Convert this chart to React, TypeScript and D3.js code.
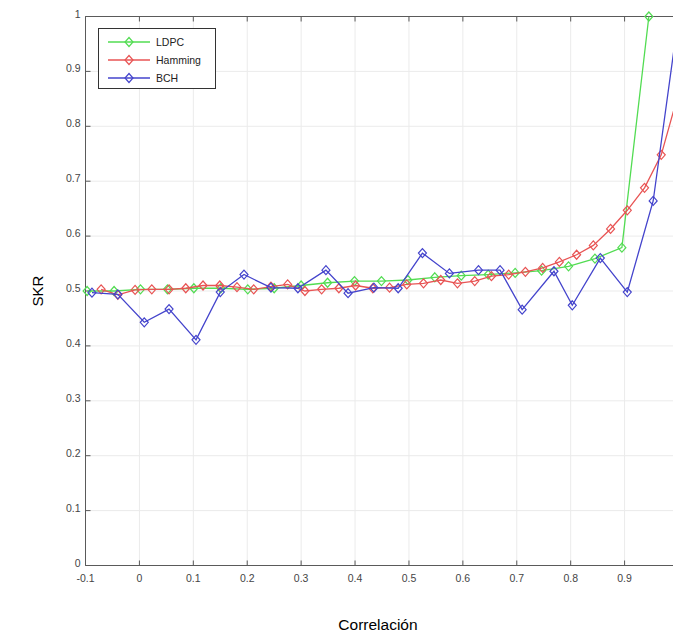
import React, { useRef, useEffect } from 'react';
import * as d3 from 'd3';

// LDPC
const ldpcX = [-0.097, -0.047, 0.002, 0.052, 0.101, 0.151, 0.201, 0.25, 0.3, 0.349, 0.399, 0.449, 0.498, 0.548, 0.597, 0.647, 0.697, 0.746, 0.796, 0.845, 0.895, 0.945];
const ldpcY = [0.5, 0.5, 0.503, 0.503, 0.505, 0.505, 0.503, 0.505, 0.51, 0.515, 0.518, 0.518, 0.52, 0.525, 0.528, 0.53, 0.533, 0.537, 0.545, 0.559, 0.579, 1.0];

// Hamming
const hammingX = [-0.071, -0.04, -0.008, 0.023, 0.055, 0.086, 0.118, 0.149, 0.181, 0.212, 0.244, 0.275, 0.307, 0.338, 0.37, 0.401, 0.433, 0.464, 0.496, 0.527, 0.559, 0.59, 0.622, 0.653, 0.685, 0.716, 0.748, 0.779, 0.811, 0.842, 0.874, 0.905, 0.937, 0.968, 1.0];
const hammingY = [0.503, 0.493, 0.502, 0.503, 0.503, 0.505, 0.51, 0.51, 0.507, 0.503, 0.508, 0.512, 0.5, 0.503, 0.505, 0.51, 0.505, 0.506, 0.512, 0.514, 0.52, 0.514, 0.518, 0.527, 0.53, 0.535, 0.542, 0.553, 0.566, 0.583, 0.613, 0.647, 0.688, 0.748, 0.86];

// BCH
const bchX = [-0.088, -0.04, 0.009, 0.055, 0.105, 0.15, 0.194, 0.244, 0.294, 0.346, 0.387, 0.435, 0.48, 0.525, 0.575, 0.629, 0.669, 0.71, 0.769, 0.803, 0.855, 0.905, 0.953, 1.0];
const bchY = [0.497, 0.494, 0.443, 0.467, 0.411, 0.498, 0.53, 0.506, 0.505, 0.538, 0.496, 0.506, 0.505, 0.569, 0.532, 0.538, 0.538, 0.466, 0.536, 0.474, 0.56, 0.498, 0.664, 1.0];

const xTicks = [-0.1, 0, 0.1, 0.2, 0.3, 0.4, 0.5, 0.6, 0.7, 0.8, 0.9, 1];
// the "1" label falls past the right edge of the picture
const xTickLabels = ['-0.1', '0', '0.1', '0.2', '0.3', '0.4', '0.5', '0.6', '0.7', '0.8', '0.9', ''];
const yTicks = [0, 0.1, 0.2, 0.3, 0.4, 0.5, 0.6, 0.7, 0.8, 0.9, 1];
const yTickLabels = ['0', '0.1', '0.2', '0.3', '0.4', '0.5', '0.6', '0.7', '0.8', '0.9', '1'];

const series = [
    { name: 'LDPC', xs: ldpcX, ys: ldpcY, color: '#52dc52' },
    { name: 'Hamming', xs: hammingX, ys: hammingY, color: '#e85454' },
    { name: 'BCH', xs: bchX, ys: bchY, color: '#4444cc' },
];

const diamond = 'M0,-4.5L4,0L0,4.5L-4,0Z';
const font = 'Arial, Liberation Sans, sans-serif';

const App = () => {
    const svgRef = useRef(null);
    const width = 673;
    const height = 636;

    useEffect(() => {
        if (!svgRef.current) {
            return;
        }
        const svg = d3.select(svgRef.current);
        svg.selectAll('*').remove();

        const x = d3.scaleLinear().domain([-0.1, 1]).range([85.5, 678.5]);
        const y = d3.scaleLinear().domain([0, 1]).range([565.5, 16.5]);

        // grid
        const grid = svg.append('g');
        grid.selectAll('.vg')
            .data(xTicks)
            .join('line')
            .attr('x1', d => x(d)).attr('x2', d => x(d))
            .attr('y1', y(0)).attr('y2', y(1))
            .attr('stroke', '#ebebeb').attr('stroke-width', 1);
        grid.selectAll('.hg')
            .data(yTicks)
            .join('line')
            .attr('x1', x(-0.1)).attr('x2', x(1))
            .attr('y1', d => y(d)).attr('y2', d => y(d))
            .attr('stroke', '#ebebeb').attr('stroke-width', 1);

        // box
        const axisColor = '#5a5a5a';
        svg.append('line').attr('x1', x(-0.1)).attr('x2', x(1)).attr('y1', y(0)).attr('y2', y(0)).attr('stroke', axisColor);
        svg.append('line').attr('x1', x(-0.1)).attr('x2', x(1)).attr('y1', y(1)).attr('y2', y(1)).attr('stroke', axisColor);
        svg.append('line').attr('x1', x(-0.1)).attr('x2', x(-0.1)).attr('y1', y(0)).attr('y2', y(1)).attr('stroke', axisColor);

        // ticks
        const tk = svg.append('g');
        xTicks.forEach((t, i) => {
            tk.append('line').attr('x1', x(t)).attr('x2', x(t)).attr('y1', y(0)).attr('y2', y(0) - 5).attr('stroke', axisColor);
            tk.append('line').attr('x1', x(t)).attr('x2', x(t)).attr('y1', y(1)).attr('y2', y(1) + 5).attr('stroke', axisColor);
            tk.append('text')
                .attr('x', x(t)).attr('y', y(0) + 16)
                .attr('text-anchor', 'middle')
                .attr('font-family', font)
                .attr('font-size', 10.5)
                .attr('fill', '#454545')
                .text(xTickLabels[i]);
        });
        yTicks.forEach((t, i) => {
            tk.append('line').attr('x1', x(-0.1)).attr('x2', x(-0.1) + 5).attr('y1', y(t)).attr('y2', y(t)).attr('stroke', axisColor);
            tk.append('text')
                .attr('x', x(-0.1) - 5).attr('y', y(t) + 1)
                .attr('text-anchor', 'end')
                .attr('font-family', font)
                .attr('font-size', 10.5)
                .attr('fill', '#454545')
                .text(yTickLabels[i]);
        });

        // series
        const line = d3.line().x(d => x(d[0])).y(d => y(d[1]));
        series.forEach(s => {
            const pts = s.xs.map((v, i) => [v, s.ys[i]]);
            svg.append('path')
                .datum(pts)
                .attr('d', line)
                .attr('fill', 'none')
                .attr('stroke', s.color)
                .attr('stroke-width', 1.3);
            svg.append('g')
                .selectAll('path')
                .data(pts)
                .join('path')
                .attr('transform', d => `translate(${x(d[0])},${y(d[1])})`)
                .attr('d', diamond)
                .attr('fill', 'none')
                .attr('stroke', s.color)
                .attr('stroke-width', 1.2);
        });

        // legend
        const lg = svg.append('g');
        lg.append('rect')
            .attr('x', 98.5).attr('y', 28.5).attr('width', 117).attr('height', 60)
            .attr('fill', 'white').attr('stroke', '#333').attr('stroke-width', 1);
        series.forEach((s, i) => {
            const ly = 42 + i * 18;
            lg.append('line').attr('x1', 108).attr('x2', 150).attr('y1', ly).attr('y2', ly)
                .attr('stroke', s.color).attr('stroke-width', 1.3);
            lg.append('path').attr('transform', `translate(129,${ly})`).attr('d', diamond)
                .attr('fill', 'none').attr('stroke', s.color).attr('stroke-width', 1.2);
            lg.append('text')
                .attr('x', 156).attr('y', ly + 4)
                .attr('font-family', font)
                .attr('font-size', 10.5)
                .attr('fill', '#222')
                .text(s.name);
        });

        // axis titles
        svg.append('text')
            .attr('transform', `translate(43,${y(0.5)}) rotate(-90)`)
            .attr('text-anchor', 'middle')
            .attr('font-family', font)
            .attr('font-size', 15)
            .attr('fill', '#000')
            .text('SKR');
        svg.append('text')
            .attr('x', 378).attr('y', 630)
            .attr('text-anchor', 'middle')
            .attr('font-family', font)
            .attr('font-size', 15.5)
            .attr('fill', '#000')
            .text('Correlación');
    }, []);

    return (
        <svg
            ref={svgRef}
            width={width}
            height={height}
            style={{ position: 'absolute', left: 0, top: 0, background: 'white' }}
        ></svg>
    );
};

export default App;
